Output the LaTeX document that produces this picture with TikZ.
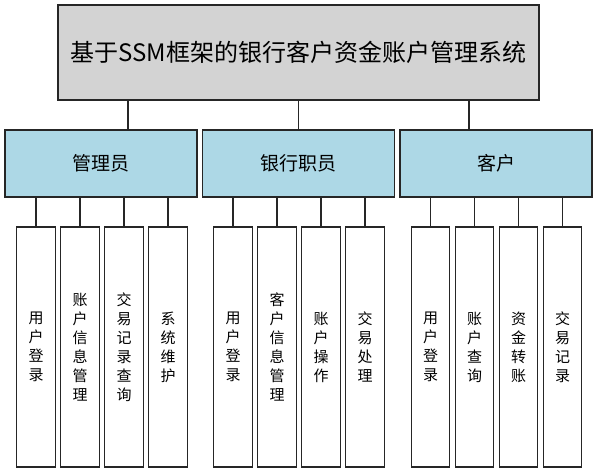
\documentclass[tikz,border=0pt]{standalone}
\usepackage{fontspec}
\setmainfont{Noto Sans CJK SC}
\usepackage{tikz}
\definecolor{kopf}{HTML}{D3D3D3}
\definecolor{rolle}{HTML}{ADD8E6}
\definecolor{strich}{HTML}{262626}
\tikzset{every node/.style={draw=strich,line width=1.2pt,inner sep=0pt},
  titel/.style={fill=kopf,minimum width=481pt,minimum height=95pt,font=\fontsize{24}{28}\selectfont},
  rol/.style={fill=rolle,minimum width=192pt,minimum height=67pt,font=\fontsize{19}{22}\selectfont},
  blatt/.style={fill=white,minimum width=38.5pt,minimum height=240pt,align=center,font=\fontsize{15}{19}\selectfont},
  lin/.style={draw=strich,line width=1.2pt}}
\def\cn#1#2{\draw[lin] (#1.south -| #2.north) -- (#2.north);}
\newcommand{\fn}[3]{\node[blatt] (#1) at (#2,347) {#3};}

\begin{document}
\begin{tikzpicture}[x=1pt,y=-1pt]
    \useasboundingbox (0,0) rectangle (597,473);
    \node[titel] (T) at (298.5,52.5) {基于SSM框架的银行客户资金账户管理系统};

    \node[rol] (A) at (101,163.5) {管理员};
    \node[rol] (B) at (298.5,163.5) {银行职员};
    \node[rol] (C) at (496,163.5) {客户};
    \draw[lin] ([xshift=-170.5pt]T.south) -- ([xshift=-170.5pt]T.south |- A.north);
    \draw[lin] (T.south) -- (T.south |- B.north);
    \draw[lin] ([xshift=170.5pt]T.south) -- ([xshift=170.5pt]T.south |- C.north);

    % admin
    \fn{a1}{36}{用\\户\\登\\录} \cn A{a1}
    \fn{a2}{80}{账\\户\\信\\息\\管\\理} \cn A{a2}
    \fn{a3}{124}{交\\易\\记\\录\\查\\询} \cn A{a3}
    \fn{a4}{168}{系\\统\\维\\护} \cn A{a4}

    % bank staff
    \fn{b1}{233}{用\\户\\登\\录} \cn B{b1}
    \fn{b2}{277}{客\\户\\信\\息\\管\\理} \cn B{b2}
    \fn{b3}{321}{账\\户\\操\\作} \cn B{b3}
    \fn{b4}{365}{交\\易\\处\\理} \cn B{b4}

    % customer
    \fn{c1}{430.5}{用\\户\\登\\录} \cn C{c1}
    \fn{c2}{474.5}{账\\户\\查\\询} \cn C{c2}
    \fn{c3}{518.5}{资\\金\\转\\账} \cn C{c3}
    \fn{c4}{562.5}{交\\易\\记\\录} \cn C{c4}
\end{tikzpicture}
\end{document}
